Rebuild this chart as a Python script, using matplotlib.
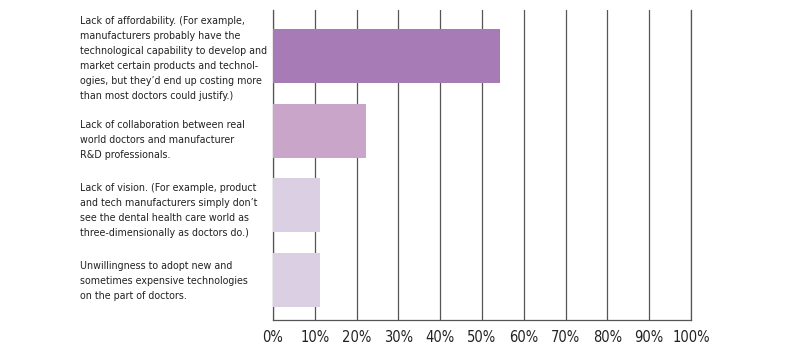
import matplotlib
matplotlib.use("Agg")
import matplotlib.pyplot as plt
import matplotlib.transforms as mtransforms

# survey answers, top to bottom
labels = [
    "Lack of affordability. (For example,\nmanufacturers probably have the\ntechnological capability to develop and\nmarket certain products and technol-\nogies, but they\u2019d end up costing more\nthan most doctors could justify.)",
    "Lack of collaboration between real\nworld doctors and manufacturer\nR&D professionals.",
    "Lack of vision. (For example, product\nand tech manufacturers simply don\u2019t\nsee the dental health care world as\nthree-dimensionally as doctors do.)",
    "Unwillingness to adopt new and\nsometimes expensive technologies\non the part of doctors.",
]
values = [54.3, 22.2, 11.3, 11.3]
colors = ["#a77bb6", "#c9a5ca", "#dbcfe4", "#dbcfe4"]
xticks = [0, 10, 20, 30, 40, 50, 60, 70, 80, 90, 100]
xtick_labels = [f"{t}%" for t in xticks]

plt.rcParams["font.family"] = ["DejaVu Sans"]
plt.rcParams["font.stretch"] = "condensed"

fig = plt.figure(figsize=(8, 3.51), dpi=100)
ax = fig.add_axes([273 / 800, 1 - 320 / 351, 418 / 800, 310 / 351])

ypos = list(range(len(values)))
ax.barh(ypos, values, height=0.72, color=colors, zorder=3)
ax.set_xlim(0, 100)
ax.set_ylim(3.54, -0.62)

ax.set_xticks(xticks)
ax.set_xticklabels(xtick_labels, fontsize=10.5, color="#222222", fontstretch="condensed")
ax.tick_params(axis="x", length=0, pad=7)
ax.set_yticks([])
ax.grid(axis="x", color="#555555", linewidth=0.9, zorder=1)

ax.spines["top"].set_visible(False)
for s in ["left", "bottom", "right"]:
    ax.spines[s].set_color("#555555")
    ax.spines[s].set_linewidth(0.9)

# labels sit in the left margin, vertically centred on their bar
trans = mtransforms.blended_transform_factory(fig.transFigure, ax.transData)
label_y = [0.03, 1.12, 2.07, 3.02]
for y, lab in zip(label_y, labels):
    ax.text(80 / 800, y, lab, transform=trans, ha="left", va="center",
            fontsize=7.7, color="#222222", linespacing=1.62, fontstretch="condensed")

fig.savefig("out.png", dpi=100)
